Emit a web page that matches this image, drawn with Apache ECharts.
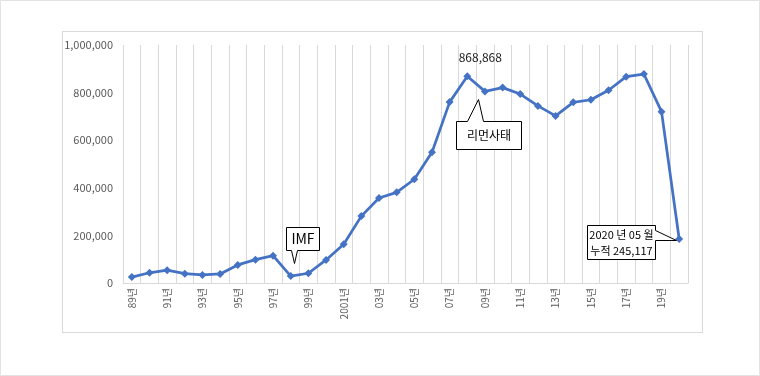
<!DOCTYPE html>
<html>
<head>
<meta charset="utf-8">
<script src="https://cdn.jsdelivr.net/npm/echarts@6/dist/echarts.min.js"></script>
<style>
  body { margin: 0; background: #fff; }
  #frame { position: absolute; left: 0; top: 0; width: 760px; height: 376px; box-sizing: border-box; border: 1px solid #e3e3e3; }
  #box { position: absolute; left: 62px; top: 31px; width: 641px; height: 302px; box-sizing: border-box; border: 1px solid #d9d9d9; }
  #main { position: absolute; left: 0; top: 0; width: 760px; height: 376px; }
</style>
</head>
<body>
<div id="frame"></div>
<div id="box"></div>
<div id="main"></div>
<script>
// 연도별 (누적) 값
const years = ['89년', '90년', '91년', '92년', '93년', '94년', '95년', '96년', '97년', '98년', '99년',
  '2000년', '2001년', '02년', '03년', '04년', '05년', '06년', '07년', '08년', '09년', '10년',
  '11년', '12년', '13년', '14년', '15년', '16년', '17년', '18년', '19년', '20년']
const values = [25000, 43000, 54000, 39000, 34000, 38000, 76000, 98000, 115000, 29000, 41000,
  97000, 163000, 281000, 357000, 381000, 436000, 549000, 760000, 868868, 805000, 821000,
  794000, 744000, 702000, 759000, 770000, 810000, 867000, 878000, 720000, 185000]
const yTicks = [0, 200000, 400000, 600000, 800000, 1000000]

const peakYear = '08년'
const noteImf = { year: '98년', text: 'IMF' }
const noteLehman = { year: '08년', text: '리먼사태' }
const noteLast = { year: '20년', text: '2020 년 05 월\n누적 245,117' }

const fmt = v => v.toLocaleString('en-US')
const font = '"Noto Sans CJK KR", "Noto Sans", sans-serif'

const chart = echarts.init(document.getElementById('main'))

function setOption () {
  const seriesData = values.map((v, i) => {
    if (years[i] !== peakYear) return v
    return {
      value: v,
      label: {
        show: true,
        position: 'top',
        offset: [13, -4],
        color: '#1a1a1a',
        fontSize: 12,
        fontFamily: font,
        formatter: p => fmt(p.value)
      }
    }
  })

  const option = {
    animation: false,
    grid: {
      left: 123,
      right: 72,
      top: 45,
      bottom: 93
    },
    xAxis: {
      type: 'category',
      data: years,
      boundaryGap: true,
      axisLine: { lineStyle: { color: '#d9d9d9', width: 1 } },
      axisTick: { show: false },
      axisLabel: {
        interval: 1,
        rotate: 90,
        margin: 5,
        color: '#595959',
        fontSize: 10,
        fontFamily: font
      },
      splitLine: {
        show: true,
        interval: 0,
        lineStyle: { color: '#d9d9d9', width: 1 }
      }
    },
    yAxis: {
      type: 'value',
      min: yTicks[0],
      max: yTicks[yTicks.length - 1],
      interval: yTicks[1] - yTicks[0],
      axisLine: { show: false },
      axisTick: { show: false },
      splitLine: { show: false },
      axisLabel: {
        margin: 10,
        color: '#595959',
        fontSize: 11,
        fontFamily: font,
        formatter: v => fmt(v)
      }
    },
    series: [
      {
        type: 'line',
        data: seriesData,
        symbol: 'diamond',
        symbolSize: 8,
        itemStyle: { color: '#4472c4' },
        lineStyle: { color: '#4472c4', width: 2.75 }
      }
    ]
  }

  chart.setOption(option)
  drawNotes()
}

// 말풍선 (점 좌표 기준 상대 위치)
function bubble (note, box, tail, textPos, fontSize) {
  const i = years.indexOf(note.year)
  const p = chart.convertToPixel({ seriesIndex: 0 }, [i, values[i]])
  const px = Math.round(p[0]) + 0.5
  const py = Math.round(p[1]) + 0.5
  const pts = box.map(q => [px + q[0], py + q[1]])
  const [x0, y0] = box[0]
  const [x1, y1] = box[2]
  return [
    {
      type: 'polygon',
      shape: { points: pts },
      style: { fill: '#fff', stroke: '#000', lineWidth: 1 },
      z: 10
    },
    {
      type: 'text',
      style: {
        text: note.text,
        x: px + (x0 + x1) / 2 + textPos[0],
        y: py + (y0 + y1) / 2 + textPos[1],
        align: 'center',
        verticalAlign: 'middle',
        fill: '#000',
        font: fontSize + 'px ' + font,
        lineHeight: fontSize + 5
      },
      z: 11
    }
  ]
}

function drawNotes () {
  const imf = bubble(noteImf,
    [[-5, -49], [28, -49], [28, -26], [6, -26], [3, -13], [0, -26], [-5, -26]], null, [0, 0], 14)
  const lehman = bubble(noteLehman,
    [[-11, 45], [0, 45], [11, 23], [16, 45], [54, 45], [54, 73], [-11, 73]], null, [0, 0], 12)
  const last = bubble(noteLast,
    [[-92, -14], [-24, -14], [-24, -9], [-3, 1], [-24, 1], [-24, 20], [-92, 20]], null, [0, 0], 11)
  // 리먼사태 텍스트 중심 보정 (박스 위쪽 꼭지점 제외)
  lehman[1].style.x = lehman[0].shape.points[0][0] + 32.5
  lehman[1].style.y = lehman[0].shape.points[0][1] + 14
  last[1].style.x = last[0].shape.points[0][0] + 34
  last[1].style.y = last[0].shape.points[0][1] + 17
  chart.setOption({ graphic: [].concat(imf, lehman, last) })
}

setOption()
</script>
</body>
</html>
